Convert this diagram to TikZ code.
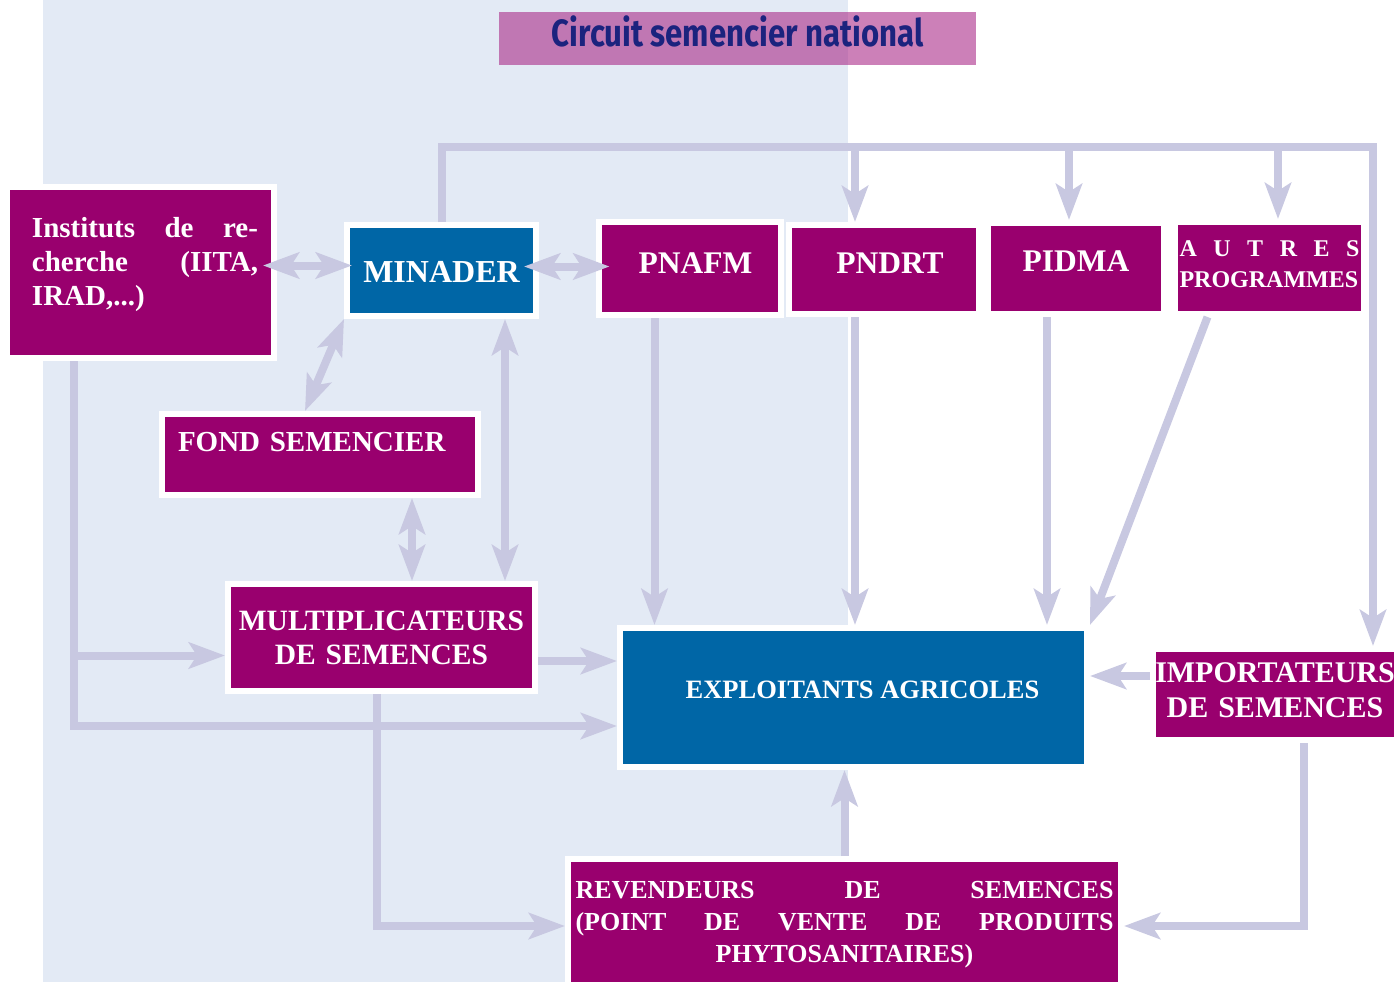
\documentclass[tikz,border=0pt]{standalone}
\usepackage{fontspec}
\setmainfont{Liberation Serif}
\newfontfamily\titlefont[FakeStretch=0.82]{Fira Sans}
\usetikzlibrary{arrows.meta}

\definecolor{prune}{RGB}{153,0,110}
\definecolor{bleumin}{RGB}{0,102,166}
\definecolor{lilas}{RGB}{200,200,225}
\definecolor{fondbleu}{RGB}{227,234,245}
\definecolor{titrefill}{RGB}{166,32,130}
\definecolor{titretext}{RGB}{27,35,126}

\pgfdeclarelayer{arriere}
\pgfsetlayers{arriere,main}

\tikzset{every picture/.style={line width=0.75pt},
  boite/.style={draw=white, line width=6pt, fill=prune, text=white, inner sep=0pt},
  boitebleue/.style={boite, fill=bleumin},
  pointe/.tip={Stealth[length=36pt,width=26pt,inset=8pt]},
  fleche/.style={draw=lilas, line width=8pt, line join=miter, -pointe},
  dfleche/.style={draw=lilas, line width=8pt, pointe-pointe}}

\begin{document}
\begin{tikzpicture}[x=1pt,y=-1pt]
\useasboundingbox (0,0) rectangle (1400,982);

%Shape: Rectangle (fond bleu)
\begin{pgfonlayer}{arriere}
\fill[fondbleu] (43,0) rectangle (848,982);
\end{pgfonlayer}

% Titre
\node[fill=titrefill, fill opacity=0.57, text opacity=1, text=titretext, minimum width=477pt, text height=35pt, text depth=18pt, inner sep=0pt, font=\titlefont\bfseries\fontsize{38}{40}\selectfont] (titre) at (737.5,38.5) {Circuit semencier national};

% Text Node
\node[boite, minimum width=267pt, text height=50pt, text depth=121pt, text width=235pt, align=left, font=\bfseries\fontsize{29}{34}\selectfont] (inst) at (140.5,272.5) {\hspace*{9pt}Instituts\hfill de\hfill re-\\\hspace*{9pt}cherche\hfill (IITA,\\\hspace*{9pt}IRAD,...)};
% Text Node
\node[boitebleue, minimum width=189pt, text height=57pt, text depth=34pt, font=\bfseries\fontsize{32}{36}\selectfont] (minader) at (441.5,270.5) {MINADER};
% Text Node
\node[boite, minimum width=182pt, text height=51pt, text depth=42pt, font=\bfseries\fontsize{31.5}{36}\selectfont] (pnafm) at (689.5,268.5) {\hspace*{12pt}PNAFM};
% Text Node
\node[boite, minimum width=190pt, text height=48pt, text depth=41pt, font=\bfseries\fontsize{31.5}{36}\selectfont] (pndrt) at (884,269.5) {\hspace*{12pt}PNDRT};
% Text Node
\node[boite, minimum width=176pt, text height=48pt, text depth=43pt, font=\bfseries\fontsize{31.5}{36}\selectfont] (pidma) at (1076,268.5) {PIDMA};
% Text Node
\node[boite, minimum width=189pt, text height=34pt, text depth=58pt, text width=180pt, align=left, font=\bfseries\fontsize{24}{31}\selectfont] (autres) at (1269.5,268) {A\hfill U\hfill T\hfill R\hfill E\hfill S\\PROGRAMMES};
% Text Node
\node[boite, minimum width=316pt, text height=37pt, text depth=44pt, text width=284pt, align=left, font=\bfseries\fontsize{29}{34}\selectfont] (fond) at (320,454.5) {FOND SEMENCIER};
% Text Node
\node[boite, minimum width=307pt, text height=46pt, text depth=61pt, text width=301pt, align=center, font=\bfseries\fontsize{29.5}{34}\selectfont] (multi) at (381.5,637.5) {MULTIPLICATEURS\\DE SEMENCES};
% Text Node
\node[boitebleue, minimum width=467pt, text height=70pt, text depth=69pt, font=\bfseries\fontsize{26.5}{30}\selectfont] (expl) at (853.5,697.5) {\hspace*{18pt}EXPLOITANTS AGRICOLES};
% Text Node
\node[boite, minimum width=244pt, text height=33pt, text depth=58pt, text width=244pt, align=center, font=\bfseries\fontsize{30}{35}\selectfont] (impo) at (1275,694.5) {IMPORTATEURS\\DE SEMENCES};
% Text Node
\node[boite, minimum width=553pt, text height=39pt, text depth=95pt, text width=538pt, align=left, font=\bfseries\fontsize{26}{32}\selectfont] (rev) at (844.5,926) {REVENDEURS\hfill DE\hfill SEMENCES\\(POINT\hfill DE\hfill VENTE\hfill DE\hfill PRODUITS\\\mbox{}\hfill PHYTOSANITAIRES)\hfill\mbox{}};

\coordinate (topL) at (441.5,147);
\coordinate (topR) at (1373,147);
\coordinate (instpied) at ([xshift=-67pt]inst.south);
\coordinate (multientree) at ([yshift=-18pt]multi.west);

%Straight Lines
\draw[dfleche, shorten <=-14pt, shorten >=-8pt] ([yshift=5pt]minader.west -| inst.east) -- ([yshift=5pt]minader.west);
\draw[dfleche, shorten <=-15pt, shorten >=-14pt] ([yshift=4pt]minader.east) -- ([yshift=4pt]minader.east -| pnafm.west);
\draw[dfleche] (minader.south west) -- ([xshift=-15pt]fond.north);
\draw[dfleche] ([xshift=63.5pt]minader.south) -- ([xshift=63.5pt]minader.south |- multi.north);
\draw[dfleche] ([xshift=92pt]fond.south) -- ([xshift=92pt]fond.south |- multi.north);

%Straight Lines (cadre du haut)
\draw[fleche] (minader.north) -- (topL) -- (topR) -- (topR |- impo.north);
\draw[fleche] ([xshift=-29pt]pndrt.north |- topL) -- ([xshift=-29pt]pndrt.north);
\draw[fleche] ([xshift=-7pt]pidma.north |- topL) -- ([xshift=-7pt]pidma.north);
\draw[fleche] ([xshift=8.5pt]autres.north |- topL) -- ([xshift=8.5pt]autres.north);

%Straight Lines (vers exploitants)
\draw[fleche] ([xshift=-35pt]pnafm.south) -- ([xshift=-35pt]pnafm.south |- expl.north);
\draw[fleche] ([xshift=-29pt]pndrt.south) -- ([xshift=-29pt]pndrt.south |- expl.north);
\draw[fleche] ([xshift=-29pt]pidma.south) -- ([xshift=-29pt]pidma.south |- expl.north);
\draw[fleche] ([xshift=-62pt]autres.south) -- (expl.north east);
\draw[fleche] (instpied) |- ([yshift=-28.5pt]expl.west);
\draw[fleche] (instpied |- multientree) -- (multientree);
\draw[fleche] ([yshift=-23.5pt]multi.east) -- ([yshift=-23.5pt]multi.east -| expl.west);
\draw[fleche] (rev.north) -- (rev.north |- expl.south);
\draw[fleche] ([yshift=18.5pt]impo.west) -- ([yshift=18.5pt]impo.west -| expl.east);

%Straight Lines (vers revendeurs)
\draw[fleche] ([xshift=-5pt]multi.south) |- (rev.west);
\draw[fleche] ([xshift=29pt]impo.south) |- (rev.east);

\end{tikzpicture}
\end{document}
